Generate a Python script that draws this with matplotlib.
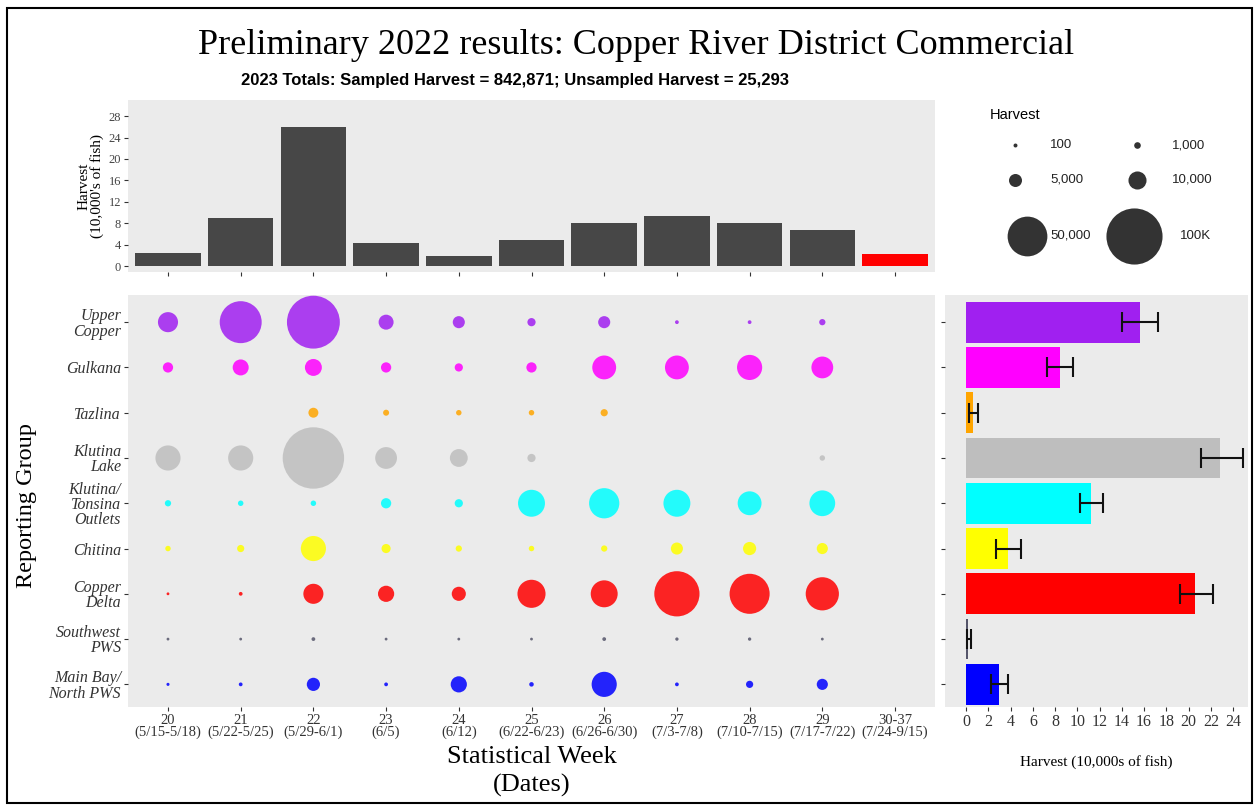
import numpy as np
import matplotlib
matplotlib.use("Agg")
import matplotlib.pyplot as plt
from matplotlib.patches import Rectangle

# --- data -------------------------------------------------------------
weeks = ["20\n(5/15-5/18)", "21\n(5/22-5/25)", "22\n(5/29-6/1)", "23\n(6/5)",
         "24\n(6/12)", "25\n(6/22-6/23)", "26\n(6/26-6/30)", "27\n(7/3-7/8)",
         "28\n(7/10-7/15)", "29\n(7/17-7/22)", "30-37\n(7/24-9/15)"]
week_totals = [2.4, 9.0, 26.0, 4.3, 1.9, 4.9, 8.0, 9.3, 8.0, 6.7, 2.2]  # 10,000s of fish
week_sampled = [True] * 10 + [False]

groups = ["Upper\nCopper", "Gulkana", "Tazlina", "Klutina\nLake",
          "Klutina/\nTonsina\nOutlets", "Chitina", "Copper\nDelta",
          "Southwest\nPWS", "Main Bay/\nNorth PWS"]
group_colors = ["#A020F0", "#FF00FF", "#FFA500", "#BEBEBE", "#00FFFF",
                "#FFFF00", "#FF0000", "#55556A", "#0000FF"]

# harvest (fish) by group x sampled week 20..29
upper_copper = [12700, 56000, 89000, 7000, 4500, 2000, 4500, 300, 300, 1100]
gulkana = [3200, 8000, 9000, 3200, 2000, 3200, 18000, 18000, 20000, 15000]
tazlina = [0, 0, 3000, 1000, 800, 800, 1500, 0, 0, 0]
klutina_lake = [20000, 20000, 120000, 15000, 10000, 2000, 0, 0, 0, 800]
outlets = [1100, 800, 800, 3200, 2000, 23000, 29000, 23000, 18000, 21000]
chitina = [800, 1500, 20000, 2500, 1100, 800, 1100, 4500, 5400, 3800]
copper_delta = [100, 300, 12700, 8200, 6200, 25000, 23000, 65000, 51000, 35000]
southwest_pws = [100, 100, 300, 100, 100, 100, 300, 200, 200, 100]
main_bay = [150, 300, 5400, 300, 8200, 500, 20000, 300, 1500, 3800]
group_weekly = [upper_copper, gulkana, tazlina, klutina_lake, outlets,
                chitina, copper_delta, southwest_pws, main_bay]

# season totals by group (10,000s of fish) with interval
group_totals = [15.6, 8.4, 0.6, 22.8, 11.2, 3.8, 20.6, 0.2, 3.0]
group_lo = [14.0, 7.3, 0.3, 21.1, 10.2, 2.7, 19.2, 0.05, 2.2]
group_hi = [17.3, 9.6, 1.1, 24.9, 12.3, 4.9, 22.2, 0.4, 3.8]

legend_values = [100, 1000, 5000, 10000, 50000, 100000]
legend_labels = ["100", "1,000", "5,000", "10,000", "50,000", "100K"]

# --- helpers ------------------------------------------------------------
W, H = 1257, 806
SERIF = ["Liberation Serif", "DejaVu Serif"]
PANEL = "#EBEBEB"


def fbox(x0, y0, x1, y1):
    return [x0 / W, 1 - y1 / H, (x1 - x0) / W, (y1 - y0) / H]


def size_of(v):
    # marker area proportional to harvest, with a small floor so tiny points show
    return np.asarray(v, dtype=float) * 0.01626 + 2.5


fig = plt.figure(figsize=(W / 100, H / 100), dpi=100)
fig.patch.set_facecolor("white")
fig.add_artist(Rectangle((7 / W, 1 - 803 / H), 1245 / W, 795 / H, transform=fig.transFigure,
                         fill=False, edgecolor="black", linewidth=1.5))

fig.text(636 / W, 1 - 46 / H, "Preliminary 2022 results: Copper River District Commercial",
         family=SERIF, fontsize=26, ha="center", va="center")
fig.text(515 / W, 1 - 80 / H,
         "2023 Totals: Sampled Harvest = 842,871; Unsampled Harvest = 25,293",
         family=["Liberation Sans", "DejaVu Sans"], fontweight="bold",
         fontsize=12, ha="center", va="center")

x = np.arange(len(weeks))

# --- top: weekly totals ---------------------------------------------------
ax_top = fig.add_axes(fbox(128, 100, 935, 272))
ax_top.set_facecolor(PANEL)
bar_cols = ["#474747" if s else "#FF0000" for s in week_sampled]
ax_top.bar(x, week_totals, width=0.9, color=bar_cols)
ax_top.set_xlim(-0.55, len(weeks) - 0.45)
ax_top.set_ylim(-1.1, 31)
ax_top.set_yticks(np.arange(0, 29, 4))
ax_top.set_xticks(x)
ax_top.set_xticklabels([])
ax_top.tick_params(length=3, color="#333333", labelsize=9, pad=2)
for lab in ax_top.get_yticklabels():
    lab.set_family(SERIF)
    lab.set_color("#444444")
ax_top.set_ylabel("Harvest\n(10,000's of fish)", family=SERIF, fontsize=11,
                  linespacing=0.95, labelpad=3)
for s in ax_top.spines.values():
    s.set_visible(False)

# --- legend panel -------------------------------------------------------
ax_leg = fig.add_axes(fbox(975, 100, 1245, 280))
ax_leg.set_xlim(0, 270)
ax_leg.set_ylim(180, 0)
ax_leg.axis("off")
ax_leg.text(15, 15, "Harvest", fontsize=10.5, family="Liberation Sans", va="center")
leg_pos = [(40, 45), (162, 45), (40, 80), (162, 80), (52, 136), (159, 136)]
lab_x = [75, 197, 75, 197, 75, 205]
for v, lab, (px, py), tx in zip(legend_values, legend_labels, leg_pos, lab_x):
    ax_leg.scatter([px], [py], s=size_of(v) + 4, color="#333333", linewidths=0)
    ax_leg.text(tx, py, lab, fontsize=9.5, family="Liberation Sans", va="center",
                color="#222222")

# --- middle: bubble chart --------------------------------------------------
ax_dot = fig.add_axes(fbox(128, 295, 935, 707))
ax_dot.set_facecolor(PANEL)
for gi, (vals, col) in enumerate(zip(group_weekly, group_colors)):
    vals = np.asarray(vals, dtype=float)
    xs = np.arange(len(vals))
    keep = vals > 0
    ax_dot.scatter(xs[keep], np.full(keep.sum(), gi), s=size_of(vals[keep]),
                   color=col, linewidths=0, alpha=0.85, zorder=3)
ax_dot.set_xlim(-0.55, len(weeks) - 0.45)
ax_dot.set_ylim(8.5, -0.6)
ax_dot.set_xticks(x)
ax_dot.set_xticklabels(weeks, family=SERIF, fontsize=10.5, linespacing=0.9,
                       color="#333333")
ax_dot.set_yticks(np.arange(len(groups)))
ax_dot.set_yticklabels(groups, family=SERIF, fontsize=11.5, style="italic",
                       linespacing=0.95, color="#333333")
ax_dot.tick_params(length=3, color="#333333", pad=2)
for s in ax_dot.spines.values():
    s.set_visible(False)
ax_dot.set_xlabel("Statistical Week\n(Dates)", family=SERIF, fontsize=19,
                  linespacing=1.3, labelpad=5)
fig.text(27 / W, 1 - 505 / H, "Reporting Group", family=SERIF, fontsize=17.5,
         rotation=90, ha="center", va="center")

# --- right: group totals -------------------------------------------------
ax_r = fig.add_axes(fbox(945, 295, 1248, 707))
ax_r.set_facecolor(PANEL)
yg = np.arange(len(groups))
tot = np.asarray(group_totals)
err = [tot - np.asarray(group_lo), np.asarray(group_hi) - tot]
ax_r.barh(yg, tot, height=0.9, color=group_colors)
ax_r.errorbar(tot, yg, xerr=err, fmt="none", ecolor="#111111", elinewidth=1.5,
              capsize=7, capthick=1.5)
ax_r.set_ylim(8.5, -0.6)
ax_r.set_xlim(-1.9, 25.35)
ax_r.set_xticks(np.arange(0, 25, 2))
ax_r.set_yticks(yg)
ax_r.set_yticklabels([])
ax_r.tick_params(length=3, color="#333333", labelsize=11.5, pad=2)
for lab in ax_r.get_xticklabels():
    lab.set_family(SERIF)
    lab.set_color("#333333")
ax_r.set_xlabel("Harvest (10,000s of fish)", family=SERIF, fontsize=11, labelpad=18)
for s in ax_r.spines.values():
    s.set_visible(False)

fig.savefig("out.png", dpi=100)
